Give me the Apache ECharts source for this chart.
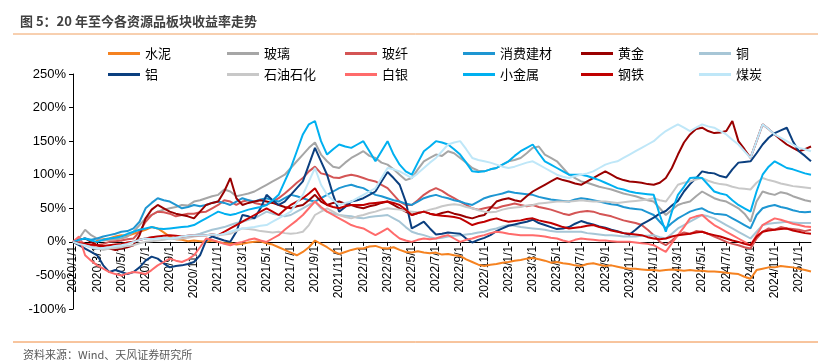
<!DOCTYPE html>
<html><head><meta charset="utf-8">
<script src="https://cdn.jsdelivr.net/npm/echarts@6/dist/echarts.min.js"></script>
<style>html,body{margin:0;padding:0;background:#fff}#c{width:826px;height:364px}</style>
</head><body><div id="c"></div>
<script>
// semi-monthly sample dates: 1st and 16th of each month, 2020/1/1 .. 2025/2/1
const years = [2020,2021,2022,2023,2024,2025];
const categories = [];
years.forEach(y=>{for(let m=1;m<=12;m++){ if(y===2025 && m>2) break; categories.push(y+'/'+m+'/1'); if(!(y===2025 && m===2)) categories.push(y+'/'+m+'/16'); }});
const yTicks = [-100,-50,0,50,100,150,200,250];
const seriesNames = ["水泥","玻璃","玻纤","消费建材","黄金","铜","铝","石油石化","白银","小金属","钢铁","煤炭"];
const seriesColors = ["#F58220","#A6A6A6","#D45555","#1E96D2","#990000","#A7C6D6","#0B3F7F","#C8C8C8","#FF6B6B","#00B0F0","#C00000","#BFE7F8"];

const cement = [
0,-4,-3,-6,2,4,5,8,10,9,12,15,18,22,20,14,8,4,3,1,2,1,0,2,
0,-2,-2,-4,-3,-1,0,1,-2,-4,-8,-12,-16,-20,-15,-8,2,-3,-8,-14,-18,-15,-12,-10,
-10,-7,-6,-9,-10,-8,-12,-15,-16,-14,-16,-17,-16,-19,-18,-20,-21,-26,-30,-34,-36,-34,-33,-31,
-30,-28,-27,-25,-24,-26,-28,-31,-30,-32,-33,-35,-36,-33,-32,-34,-36,-35,-37,-39,-40,-40,-41,-42,
-42,-43,-42,-41,-42,-43,-42,-43,-43,-44,-44,-45,-46,-47,-48,-52,-55,-42,-40,-38,-38,-36,-37,-38,
-40,-42,-44];
const glass = [
0,5,18,10,5,2,3,4,5,8,15,25,35,40,45,48,50,52,55,54,60,62,65,68,
70,78,75,68,70,72,75,80,85,90,95,100,110,120,130,140,148,130,120,112,110,118,125,130,
135,128,125,118,115,108,100,92,95,108,120,125,130,128,135,132,125,118,110,106,105,108,110,115,
120,122,125,132,140,142,130,125,120,110,100,95,90,88,85,82,80,78,75,72,70,68,65,62,
60,50,40,48,55,58,60,68,75,70,65,62,60,55,50,42,30,60,75,72,70,74,72,68,
65,62,60];
const glassFiber = [
0,2,-3,-6,-5,-3,0,1,2,4,5,15,30,40,45,44,42,38,40,42,42,44,45,50,
55,62,60,55,60,62,58,56,55,60,65,72,80,88,95,105,112,102,100,96,95,98,100,98,
95,92,90,85,80,70,60,55,55,62,70,76,80,76,70,65,60,55,50,48,50,52,50,53,
55,57,55,53,55,52,50,48,45,42,40,43,45,46,45,42,40,38,35,32,30,28,25,18,
10,0,-5,2,10,14,12,16,15,12,8,4,0,-3,-5,-8,-10,5,15,20,18,22,20,19,
18,16,18];
const buildMat = [
0,3,5,3,5,8,10,12,15,16,20,30,50,58,65,62,60,55,50,52,55,53,55,58,
60,58,55,60,65,62,60,63,65,62,60,65,70,68,65,62,60,65,70,75,80,83,85,82,
80,75,70,68,65,62,60,57,55,60,65,68,70,67,65,62,60,57,55,60,65,68,70,72,
75,73,72,71,70,67,65,63,62,61,60,63,65,64,62,60,58,56,55,52,50,49,48,44,
40,30,20,28,35,40,45,48,50,45,42,41,40,35,30,25,20,40,50,53,55,52,50,47,
45,44,45];
const gold = [
0,3,5,0,-5,-8,-10,-12,-10,-8,-5,10,35,48,55,50,45,42,40,38,35,45,55,58,
60,75,95,65,55,58,60,62,60,58,55,52,50,53,55,62,70,60,55,58,60,57,55,52,
50,53,55,58,60,55,50,45,40,43,45,42,40,43,45,42,40,37,35,38,40,50,60,63,
65,62,60,68,75,80,85,90,95,92,90,87,85,90,95,100,105,100,95,92,90,89,88,86,
85,88,95,110,130,148,160,168,170,165,162,163,165,180,150,138,125,150,175,168,160,152,145,140,
135,138,142];
const copper = [
0,-2,-5,-8,-10,-9,-8,-6,-5,-2,0,3,5,7,8,6,5,6,8,9,10,12,15,18,
20,22,25,28,30,33,35,40,45,42,40,38,40,45,50,55,60,50,45,42,40,39,38,36,
35,37,38,39,40,35,30,22,15,12,10,7,5,6,8,9,10,11,12,14,15,18,20,23,
25,24,22,21,20,19,18,16,15,15,15,15,15,13,12,11,10,10,9,8,8,8,9,9,
10,7,5,12,20,25,30,35,40,38,35,30,25,20,15,10,5,15,25,27,28,29,30,29,
28,28,28];
const aluminum = [
0,-5,-10,-15,-20,-35,-45,-42,-45,-48,-45,-38,-28,-22,-25,-32,-38,-36,-35,-33,-30,-20,2,8,
5,2,0,15,40,38,35,50,70,62,55,60,70,80,90,115,140,120,100,70,45,52,60,62,
65,70,75,90,104,95,85,60,20,25,30,20,11,12,14,13,12,5,-1,3,6,10,16,20,
24,26,28,30,33,28,25,22,19,20,22,27,31,28,26,23,21,18,16,13,11,18,26,31,
36,42,46,54,61,75,86,95,105,103,102,98,96,108,118,119,120,132,145,155,162,166,170,150,
135,128,120];
const petro = [
0,-3,-5,-8,-10,-12,-10,-9,-8,-6,-5,-2,0,1,2,3,5,4,5,6,8,9,10,11,
10,11,12,16,20,19,18,16,15,14,15,13,12,13,15,25,40,45,50,45,40,37,35,38,
40,43,45,48,50,49,48,46,45,44,45,48,50,53,55,56,55,52,50,47,45,44,45,48,
50,51,52,54,55,57,58,59,60,60,60,61,62,61,60,60,60,59,58,59,60,61,62,63,
65,62,60,72,85,88,90,93,95,91,88,86,85,82,80,79,78,88,95,92,90,87,85,83,
82,81,80];
const silver = [
0,8,-20,-28,-35,-40,-45,-48,-50,-47,-45,-46,-48,-42,-35,-30,-25,-28,-30,-26,-20,-8,5,3,
0,-3,-5,-2,0,3,5,2,0,5,10,18,25,32,40,50,60,52,45,40,35,30,25,22,
20,15,10,15,20,12,5,2,0,3,5,4,5,8,10,5,0,3,5,8,10,13,15,14,
12,11,10,10,10,9,8,6,5,2,0,3,5,4,3,2,2,1,0,0,0,-1,-2,-3,
-5,-10,-15,-2,10,22,35,38,40,32,25,20,15,10,5,0,-5,10,25,30,35,33,30,27,
25,23,22];
const minorMetal = [
0,3,5,2,0,3,5,6,8,12,15,18,20,22,20,19,20,21,22,23,25,30,35,40,
45,42,40,42,45,48,50,52,55,62,70,90,110,135,160,175,180,150,130,138,145,142,140,145,
150,135,120,135,150,130,115,105,100,118,135,142,150,148,145,138,130,118,105,104,105,108,110,115,
120,128,135,140,145,132,120,115,110,105,100,100,100,98,95,92,88,84,80,78,75,73,72,71,
70,40,15,45,70,82,95,96,95,85,75,72,70,62,55,50,45,75,100,112,120,115,110,108,
105,102,100];
const steel = [
0,-2,-3,-4,-5,-6,-5,-4,-3,-1,0,3,5,7,8,9,10,9,8,9,10,10,10,11,
10,15,20,25,30,35,40,45,50,45,40,48,55,60,65,72,80,65,55,52,50,53,55,55,
55,57,58,59,60,58,55,48,40,43,45,42,40,39,38,37,35,30,25,28,30,33,35,32,
30,31,32,34,35,32,30,28,25,22,20,21,22,24,25,22,20,17,15,13,12,11,10,7,
5,4,5,8,10,11,12,14,15,12,10,8,5,2,0,-3,-5,8,15,17,18,19,20,17,
15,13,12];
const coal = [
0,-3,-5,-8,-10,-9,-8,-6,-5,-3,0,3,5,4,5,6,5,6,8,9,10,10,10,11,
10,12,15,18,20,21,22,24,25,30,35,40,45,58,70,90,110,85,70,62,55,58,60,65,
70,75,80,95,110,108,105,100,95,102,110,118,125,135,145,148,150,138,125,122,120,118,115,112,
110,112,115,118,120,115,110,105,100,97,95,98,100,102,105,110,115,118,120,125,130,135,140,145,
150,158,165,170,175,170,165,170,175,172,170,165,160,152,145,135,125,150,175,168,160,155,150,145,
140,138,135];

const seriesValues = [cement,glass,glassFiber,buildMat,gold,copper,aluminum,petro,silver,minorMetal,steel,coal];

const chart = echarts.init(document.getElementById('c'));
const colX = [108,227,345,463,581,699];
const rowY = [47,68];
const gridTop = 74, gridBottom = 55, H = 364;
const yMin = yTicks[0], yMax = yTicks[yTicks.length-1];
const zeroOffset = -(0 - yMin) / (yMax - yMin) * (H - gridTop - gridBottom);
const legends = seriesNames.map((n,i)=>({
  data:[n], left: colX[i%6], top: rowY[Math.floor(i/6)], padding:0,
  icon:'rect', itemWidth:32, itemHeight:3, itemGap:5,
  textStyle:{fontSize:13,color:'#000',fontFamily:'"Noto Sans CJK SC", sans-serif'}
}));
chart.setOption({
  animation:false,
  backgroundColor:'#fff',
  title:{text:'图 5：20 年至今各资源品板块收益率走势',left:20,top:15,padding:0,
    textStyle:{fontSize:13,fontWeight:'bold',color:'#404040',fontFamily:'"Noto Sans CJK SC", sans-serif'}},
  legend: legends,
  grid:{left:73,right:15,top:gridTop,bottom:gridBottom,containLabel:false,outerBoundsMode:'none'},
  xAxis:{type:'category',data:categories,boundaryGap:false,offset:zeroOffset,z:1,
    axisLine:{onZero:false,lineStyle:{color:'#000',width:1}},
    axisTick:{interval:3,length:4,lineStyle:{color:'#000'}},
    axisLabel:{interval:3,rotate:90,fontSize:12,color:'#000',margin:4,fontFamily:'"Liberation Sans", Arial, sans-serif'},
    splitLine:{show:false}},
  yAxis:{type:'value',min:yMin,max:yMax,interval:50,
    axisLine:{show:true,lineStyle:{color:'#000'}},
    axisTick:{show:true,length:4,lineStyle:{color:'#000'}},
    axisLabel:{formatter:'{value}%',fontSize:13,color:'#000',margin:7,fontFamily:'"Liberation Sans", Arial, sans-serif'},
    splitLine:{show:false}},
  graphic:[
    {type:'line',shape:{x1:13,y1:34,x2:818,y2:34},style:{stroke:'#F0A060',lineWidth:1}},
    {type:'line',shape:{x1:13,y1:342,x2:818,y2:342},style:{stroke:'#F08A3C',lineWidth:1}},
    {type:'text',left:23,top:349,style:{text:'资料来源：Wind、天风证券研究所',fontSize:11,fill:'#595959',fontFamily:'"Noto Sans CJK SC", sans-serif'}}
  ],
  series: seriesNames.map((n,i)=>({
    name:n,type:'line',data:seriesValues[i],showSymbol:false,symbol:'none',z:2,
    lineStyle:{width:2,color:seriesColors[i]},itemStyle:{color:seriesColors[i]}
  }))
});
</script></body></html>
